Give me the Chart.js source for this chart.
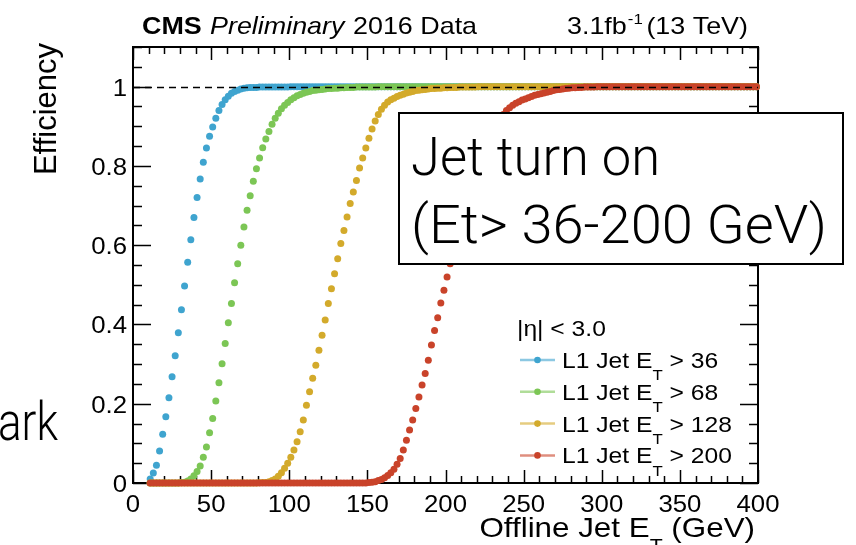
<!DOCTYPE html>
<html lang="en">
<head>
<meta charset="UTF-8">
<title>L1 Jet turn on</title>
<style>
    body { margin: 0; background: #fff; overflow: hidden; }
    canvas { display: block; }
</style>
</head>
<body>
<canvas id="turnOn" width="856" height="545"></canvas>
<script src="https://cdn.jsdelivr.net/npm/chart.js"></script>
<script>
// Offline jet ET bin centres (GeV), 2 GeV wide bins
const etBins = [
    11, 13, 15, 17, 19, 21, 23, 25, 27, 29,
    31, 33, 35, 37, 39, 41, 43, 45, 47, 49,
    51, 53, 55, 57, 59, 61, 63, 65, 67, 69,
    71, 73, 75, 77, 79, 81, 83, 85, 87, 89,
    91, 93, 95, 97, 99, 101, 103, 105, 107, 109,
    111, 113, 115, 117, 119, 121, 123, 125, 127, 129,
    131, 133, 135, 137, 139, 141, 143, 145, 147, 149,
    151, 153, 155, 157, 159, 161, 163, 165, 167, 169,
    171, 173, 175, 177, 179, 181, 183, 185, 187, 189,
    191, 193, 195, 197, 199, 201, 203, 205, 207, 209,
    211, 213, 215, 217, 219, 221, 223, 225, 227, 229,
    231, 233, 235, 237, 239, 241, 243, 245, 247, 249,
    251, 253, 255, 257, 259, 261, 263, 265, 267, 269,
    271, 273, 275, 277, 279, 281, 283, 285, 287, 289,
    291, 293, 295, 297, 299, 301, 303, 305, 307, 309,
    311, 313, 315, 317, 319, 321, 323, 325, 327, 329,
    331, 333, 335, 337, 339, 341, 343, 345, 347, 349,
    351, 353, 355, 357, 359, 361, 363, 365, 367, 369,
    371, 373, 375, 377, 379, 381, 383, 385, 387, 389,
    391, 393, 395, 397, 399
];

// efficiency, L1 Jet ET > 36
const eff36 = [
    0.010, 0.025, 0.045, 0.081, 0.123, 0.167, 0.215, 0.268, 0.321, 0.379,
    0.437, 0.497, 0.557, 0.614, 0.670, 0.720, 0.767, 0.809, 0.845, 0.875,
    0.898, 0.920, 0.940, 0.955, 0.967, 0.976, 0.983, 0.988, 0.991, 0.994,
    0.996, 0.997, 0.998, 0.998, 0.998, 0.999, 0.999, 0.999, 0.999, 0.999,
    0.999, 0.999, 0.999, 0.999, 0.999, 1, 1, 1, 1, 1,
    1, 1, 1, 1, 1, 1, 1, 1, 1, 1,
    1, 1, 1, 1, 1, 1, 1, 1, 1, 1,
    1, 1, 1, 1, 1, 1, 1, 1, 1, 1,
    1, 1, 1, 1, 1, 1, 1, 1, 1, 1,
    1, 1, 1, 1, 1, 1, 1, 1, 1, 1,
    1, 1, 1, 1, 1, 1, 1, 1, 1, 1,
    1, 1, 1, 1, 1, 1, 1, 1, 1, 1,
    1, 1, 1, 1, 1, 1, 1, 1, 1, 1,
    1, 1, 1, 1, 1, 1, 1, 1, 1, 1,
    1, 1, 1, 1, 1, 1, 1, 1, 1, 1,
    1, 1, 1, 1, 1, 1, 1, 1, 1, 1,
    1, 1, 1, 1, 1, 1, 1, 1, 1, 1,
    1, 1, 1, 1, 1, 1, 1, 1, 1, 1,
    1, 1, 1, 1, 1, 1, 1, 1, 1, 1,
    1, 1, 1, 1, 1
];

// efficiency, L1 Jet ET > 68
const eff68 = [
    0, 0, 0, 0, 0, 0, 0, 0, 0, 0,
    0.001, 0.002, 0.005, 0.010, 0.018, 0.029, 0.043, 0.065, 0.091, 0.127,
    0.163, 0.207, 0.253, 0.301, 0.352, 0.404, 0.453, 0.505, 0.553, 0.600,
    0.646, 0.688, 0.725, 0.761, 0.793, 0.820, 0.846, 0.868, 0.887, 0.905,
    0.920, 0.933, 0.944, 0.953, 0.960, 0.967, 0.972, 0.977, 0.980, 0.983,
    0.986, 0.988, 0.990, 0.991, 0.992, 0.993, 0.994, 0.995, 0.995, 0.996,
    0.996, 0.997, 0.997, 0.998, 0.998, 0.998, 0.999, 0.999, 0.999, 0.999,
    0.999, 0.999, 0.999, 1, 1, 1, 1, 1, 1, 1,
    1, 1, 1, 1, 1, 1, 1, 1, 1, 1,
    1, 1, 1, 1, 1, 1, 1, 1, 1, 1,
    1, 1, 1, 1, 1, 1, 1, 1, 1, 1,
    1, 1, 1, 1, 1, 1, 1, 1, 1, 1,
    1, 1, 1, 1, 1, 1, 1, 1, 1, 1,
    1, 1, 1, 1, 1, 1, 1, 1, 1, 1,
    1, 1, 1, 1, 1, 1, 1, 1, 1, 1,
    1, 1, 1, 1, 1, 1, 1, 1, 1, 1,
    1, 1, 1, 1, 1, 1, 1, 1, 1, 1,
    1, 1, 1, 1, 1, 1, 1, 1, 1, 1,
    1, 1, 1, 1, 1, 1, 1, 1, 1, 1,
    1, 1, 1, 1, 1
];

// efficiency, L1 Jet ET > 128
const eff128 = [
    0, 0, 0, 0, 0, 0, 0, 0, 0, 0,
    0, 0, 0, 0, 0, 0, 0, 0, 0, 0,
    0, 0, 0, 0, 0, 0, 0, 0, 0, 0,
    0, 0, 0, 0, 0, 0.0005, 0.001, 0.0015, 0.003, 0.006,
    0.010, 0.017, 0.026, 0.037, 0.050, 0.065, 0.083, 0.104, 0.129, 0.159,
    0.196, 0.230, 0.264, 0.297, 0.335, 0.373, 0.411, 0.453, 0.490, 0.528,
    0.566, 0.604, 0.637, 0.671, 0.705, 0.734, 0.763, 0.795, 0.820, 0.845,
    0.870, 0.893, 0.913, 0.930, 0.943, 0.953, 0.961, 0.967, 0.971, 0.975,
    0.978, 0.981, 0.984, 0.986, 0.988, 0.990, 0.991, 0.992, 0.993, 0.994,
    0.995, 0.995, 0.996, 0.996, 0.997, 0.997, 0.998, 0.998, 0.998, 0.999,
    0.999, 0.999, 0.999, 0.999, 0.999, 1, 1, 1, 1, 1,
    1, 1, 1, 1, 1, 1, 1, 1, 1, 1,
    1, 1, 1, 1, 1, 1, 1, 1, 1, 1,
    1, 1, 1, 1, 1, 1, 1, 1, 1, 1,
    1, 1, 1, 1, 1, 1, 1, 1, 1, 1,
    1, 1, 1, 1, 1, 1, 1, 1, 1, 1,
    1, 1, 1, 1, 1, 1, 1, 1, 1, 1,
    1, 1, 1, 1, 1, 1, 1, 1, 1, 1,
    1, 1, 1, 1, 1, 1, 1, 1, 1, 1,
    1, 1, 1, 1, 1
];

// efficiency, L1 Jet ET > 200
const eff200 = [
    0, 0, 0, 0, 0, 0, 0, 0, 0, 0,
    0, 0, 0, 0, 0, 0, 0, 0, 0, 0,
    0, 0, 0, 0, 0, 0, 0, 0, 0, 0,
    0, 0, 0, 0, 0, 0, 0, 0, 0, 0,
    0, 0, 0, 0, 0, 0, 0, 0, 0, 0,
    0, 0, 0, 0, 0, 0, 0, 0, 0, 0,
    0, 0, 0, 0, 0, 0, 0, 0, 0, 0,
    0.001, 0.002, 0.003, 0.006, 0.009, 0.013, 0.019, 0.026, 0.035, 0.047,
    0.062, 0.083, 0.108, 0.134, 0.159, 0.188, 0.217, 0.247, 0.276, 0.310,
    0.348, 0.385, 0.417, 0.454, 0.486, 0.520, 0.553, 0.586, 0.618, 0.648,
    0.677, 0.704, 0.729, 0.753, 0.775, 0.796, 0.815, 0.832, 0.848, 0.863,
    0.880, 0.898, 0.916, 0.930, 0.940, 0.947, 0.953, 0.958, 0.962, 0.966,
    0.969, 0.972, 0.975, 0.978, 0.980, 0.982, 0.984, 0.986, 0.988, 0.990,
    0.992, 0.993, 0.994, 0.995, 0.996, 0.997, 0.997, 0.998, 0.998, 0.999,
    0.999, 0.999, 0.999, 1, 1, 1, 1, 1, 1, 1,
    1, 1, 1, 1, 1, 1, 1, 1, 1, 1,
    1, 1, 1, 1, 1, 1, 1, 1, 1, 1,
    1, 1, 1, 1, 1, 1, 1, 1, 1, 1,
    1, 1, 1, 1, 1, 1, 1, 1, 1, 1,
    1, 1, 1, 1, 1
];

const thresholds = ['36', '68', '128', '200'];
const colors = ['#3fa4cf', '#7cc655', '#d3aa2b', '#c9432a'];
const xTicks = [0, 50, 100, 150, 200, 250, 300, 350, 400];
const yTicks = [0, 0.2, 0.4, 0.6, 0.8, 1];

const ROOT_FONT = '"Liberation Sans", Arial, sans-serif';
const SLIDE_FONT = 'Roboto, "Open Sans", sans-serif';
const SX = 1.12; // plot text is a little wider than tall

// draw text stretched horizontally, returns right edge
function sText(ctx, str, x, y, font, align) {
    ctx.save();
    ctx.font = font;
    const w = ctx.measureText(str).width * SX;
    let x0 = x;
    if (align === 'center') x0 = x - w / 2;
    else if (align === 'right') x0 = x - w;
    ctx.translate(x0, y);
    ctx.scale(SX, 1);
    ctx.textAlign = 'left';
    ctx.textBaseline = 'alphabetic';
    ctx.fillText(str, 0, 0);
    ctx.restore();
    return x0 + w;
}

function textWidth(ctx, str, font) {
    ctx.save();
    ctx.font = font;
    const w = ctx.measureText(str).width * SX;
    ctx.restore();
    return w;
}

// text squeezed into a given width (slide text box)
function fitText(ctx, str, x, y, width) {
    const w = ctx.measureText(str).width;
    ctx.save();
    ctx.translate(x, y);
    ctx.scale(width / w, 1);
    ctx.fillText(str, 0, 0);
    ctx.restore();
}

// "pre E_T post" with subscript T
function drawEt(ctx, x, y, size, pre, post) {
    const f = size + 'px ' + ROOT_FONT;
    const fs = Math.round(size * 0.68) + 'px ' + ROOT_FONT;
    let cx = sText(ctx, pre + 'E', x, y, f);
    cx = sText(ctx, 'T', cx, y + size * 0.55, fs);
    return sText(ctx, post, cx, y, f);
}

const rootFrame = {
    id: 'rootFrame',
    beforeDatasetsDraw(chart) {
        const ctx = chart.ctx;
        const a = chart.chartArea;
        const xs = chart.scales.x, ys = chart.scales.y;
        ctx.save();
        ctx.strokeStyle = '#000';
        ctx.lineWidth = 1.5;
        ctx.beginPath();
        // x ticks, pointing inwards on bottom and top
        for (let i = 0; i <= 40; i++) {
            const px = Math.round(xs.getPixelForValue(i * 10)) + 0.5;
            const len = i % 5 === 0 ? 13 : 7;
            ctx.moveTo(px, a.bottom); ctx.lineTo(px, a.bottom - len);
            ctx.moveTo(px, a.top); ctx.lineTo(px, a.top + len);
        }
        // y ticks on left and right
        for (let i = 0; i <= 22; i++) {
            const py = Math.round(ys.getPixelForValue(i * 0.05)) + 0.5;
            const len = i % 4 === 0 ? 18 : 9;
            ctx.moveTo(a.left, py); ctx.lineTo(a.left + len, py);
            ctx.moveTo(a.right, py); ctx.lineTo(a.right - len, py);
        }
        ctx.stroke();
        ctx.lineWidth = 2;
        ctx.strokeRect(a.left, a.top, a.right - a.left, a.bottom - a.top);

        // tick labels
        ctx.fillStyle = '#000';
        const tf = '23px ' + ROOT_FONT;
        xTicks.forEach(v => {
            sText(ctx, String(v), xs.getPixelForValue(v), a.bottom + 29, tf, 'center');
        });
        yTicks.forEach(v => {
            sText(ctx, String(v), a.left - 6, ys.getPixelForValue(v) + 9, tf, 'right');
        });
        ctx.restore();
    },
    afterDatasetsDraw(chart) {
        const ctx = chart.ctx;
        const a = chart.chartArea;
        const y1 = Math.round(chart.scales.y.getPixelForValue(1)) + 0.5;
        ctx.save();
        ctx.strokeStyle = '#000';
        ctx.lineWidth = 1.3;
        ctx.setLineDash([7, 5]);
        ctx.beginPath();
        ctx.moveTo(a.left, y1);
        ctx.lineTo(a.right, y1);
        ctx.stroke();
        ctx.restore();
    },
    afterDraw(chart) {
        const ctx = chart.ctx;
        ctx.save();
        ctx.fillStyle = '#000';

        // header
        sText(ctx, 'CMS', 142, 34, 'bold 24px ' + ROOT_FONT);
        sText(ctx, 'Preliminary', 210, 34, 'italic 24px ' + ROOT_FONT);
        sText(ctx, '2016 Data', 353, 34, '24px ' + ROOT_FONT);
        let cx = sText(ctx, '3.1fb', 567, 34, '24px ' + ROOT_FONT);
        sText(ctx, '-1', cx + 1, 24, '15px ' + ROOT_FONT);
        sText(ctx, '(13 TeV)', 748, 34, '24px ' + ROOT_FONT, 'right');

        // axis titles
        const xt = 28;
        const xw = textWidth(ctx, 'Offline Jet E', xt + 'px ' + ROOT_FONT) +
            textWidth(ctx, 'T', Math.round(xt * 0.68) + 'px ' + ROOT_FONT) +
            textWidth(ctx, ' (GeV)', xt + 'px ' + ROOT_FONT);
        drawEt(ctx, 755 - xw, 537, xt, 'Offline Jet ', ' (GeV)');

        ctx.save();
        ctx.translate(56, 43);
        ctx.rotate(-Math.PI / 2);
        ctx.font = '31px ' + ROOT_FONT;
        ctx.textAlign = 'right';
        ctx.textBaseline = 'alphabetic';
        ctx.fillText('Efficiency', 0, 0);
        ctx.restore();

        // legend
        sText(ctx, '|\u03b7| < 3.0', 517, 336, '22px ' + ROOT_FONT);
        thresholds.forEach((t, i) => {
            const by = 368 + i * 31.8;
            const ly = by - 8;
            ctx.save();
            ctx.globalAlpha = 0.6;
            ctx.strokeStyle = colors[i];
            ctx.lineWidth = 2.5;
            ctx.beginPath();
            ctx.moveTo(520, ly);
            ctx.lineTo(555, ly);
            ctx.stroke();
            ctx.restore();
            ctx.fillStyle = colors[i];
            ctx.beginPath();
            ctx.arc(537.5, ly, 3.3, 0, Math.PI * 2);
            ctx.fill();
            ctx.fillStyle = '#000';
            drawEt(ctx, 562, by, 22, 'L1 Jet ', ' > ' + t);
        });

        // slide annotation box
        ctx.fillStyle = '#fff';
        ctx.fillRect(399, 113, 444, 151);
        ctx.strokeStyle = '#000';
        ctx.lineWidth = 2;
        ctx.strokeRect(399, 113, 444, 151);
        ctx.fillStyle = '#000';
        ctx.font = '300 53px ' + SLIDE_FONT;
        ctx.textAlign = 'left';
        ctx.textBaseline = 'alphabetic';
        fitText(ctx, 'Jet turn on', 411, 175, 249);
        fitText(ctx, '(Et> 36-200 GeV)', 411, 243, 416);

        // slide text cut off at the left edge
        fitText(ctx, 'ark', -2, 440, 60);
        ctx.restore();
    }
};

const series = [eff36, eff68, eff128, eff200];

const datasets = series.map((eff, i) => ({
    label: 'L1 Jet ET > ' + thresholds[i],
    data: etBins.map((et, j) => ({ x: et, y: eff[j] })),
    backgroundColor: colors[i],
    borderColor: colors[i],
    borderWidth: 0,
    pointRadius: 3.5,
    pointBorderWidth: 0,
    showLine: false,
    clip: false,
    order: series.length - i   // later thresholds drawn on top
}));

new Chart(document.getElementById('turnOn').getContext('2d'), {
    type: 'scatter',
    data: { datasets: datasets },
    options: {
        responsive: false,
        animation: false,
        events: [],
        layout: { padding: { left: 133, right: 98, top: 47, bottom: 62 } },
        plugins: {
            legend: { display: false },
            tooltip: { enabled: false }
        },
        scales: {
            x: { type: 'linear', min: 0, max: 400, display: false },
            y: { type: 'linear', min: 0, max: 1.1, display: false }
        }
    },
    plugins: [rootFrame]
});
</script>
</body>
</html>
